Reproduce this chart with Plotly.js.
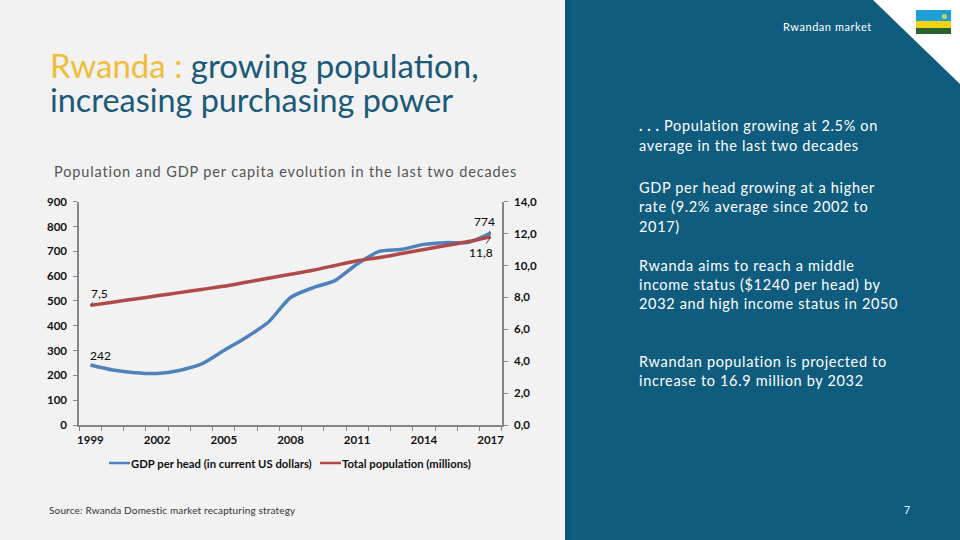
<!DOCTYPE html>
<html><head><meta charset="utf-8">
<script src="https://cdn.plot.ly/plotly-3.0.1.min.js"></script>
<style>html,body{margin:0;padding:0;background:#f2f2f2}</style>
</head><body><div id="chart" style="width:960px;height:540px"></div>
<script>
const years=[1999,2000,2001,2002,2003,2004,2005,2006,2007,2008,2009,2010,2011,2012,2013,2014,2015,2016,2017];
const gdpPerHead=[242,222,211,208,220,246,300,353,414,514,553,582,649,700,708,728,735,736,774];
const population=[7.5,7.7,7.9,8.1,8.3,8.5,8.7,8.95,9.2,9.45,9.7,10.0,10.3,10.5,10.75,11.0,11.25,11.5,11.8];
const xTickYears=[1999,2002,2005,2008,2011,2014,2017];
const leftTicks=[0,100,200,300,400,500,600,700,800,900];
const rightTicks=[0,2,4,6,8,10,12,14];
const rightTickLabels=['0,0','2,0','4,0','6,0','8,0','10,0','12,0','14,0'];
const seriesNames=['GDP per head (in current US dollars)','Total population (millions)'];
const W=960,H=540;
const px=x=>x/W, py=y=>1-y/H;
const axisGrey='#868686';
const blue='#4f81bd', red='#b0494a';
const chartFont={family:'Lato, "Liberation Sans", sans-serif',size:11,color:'#111'};
const tickFont={family:chartFont.family,size:11.5,color:'#111',weight:700};
const bodyFont='Lato, "Open Sans", sans-serif';
function note(x,y,text,size,color,anchor,spacing,weight){
  return {xref:'paper',yref:'paper',x:px(x),y:py(y),text:spacing?`<span style="letter-spacing:${spacing}px">${text}</span>`:text,showarrow:false,xanchor:anchor||'left',yanchor:'middle',align:anchor||'left',
    font:{family:bodyFont,size:size,color:color,weight:weight||400},borderpad:0,borderwidth:0};
}
function dataLabel(x,y,axis,text,ax,ay){
  return {xref:'x',yref:axis,x:x,y:y,text:text,showarrow:true,arrowhead:0,arrowwidth:0.8,arrowcolor:'#222',ax:ax,ay:ay,
    standoff:0,startstandoff:0,font:{family:chartFont.family,size:12,color:'#111',weight:500}};
}
function legendEntry(x0,x1,color,name){
  return [{type:'line',xref:'paper',yref:'paper',x0:px(x0),x1:px(x1),y0:py(463),y1:py(463),line:{color:color,width:2.5}},
          note(x1+1,463,name,11.3,'#111','left',0,700)];
}
const white='#ffffff', gold='#f0bd38', titleTeal='#1b5a78', greyText='#555555';
const leg1=legendEntry(109,130,blue,seriesNames[0]), leg2=legendEntry(320,341,red,seriesNames[1]);
const bs=0.66, bodySize=14.5;
const layout={
  width:W,height:H,margin:{l:0,r:0,t:0,b:0,pad:0},
  paper_bgcolor:'#f2f2f2',plot_bgcolor:'rgba(0,0,0,0)',
  font:chartFont,
  showlegend:false,
  xaxis:{domain:[px(79.3),px(501.7)],range:[1998.5,2017.5],tickmode:'array',tickvals:xTickYears,ticktext:xTickYears.map(String),
    ticks:'',ticklabelstandoff:3,showgrid:false,zeroline:false,showline:true,linecolor:axisGrey,linewidth:2,tickfont:tickFont,
    minor:{tick0:1998.5,dtick:1,ticks:'outside',ticklen:4,tickcolor:axisGrey,tickwidth:1,showgrid:false}},
  yaxis:{domain:[py(425),py(201.7)],range:[0,900],tickmode:'array',tickvals:leftTicks,ticks:'outside',ticklen:4,tickcolor:axisGrey,ticklabelstandoff:4,
    showgrid:false,zeroline:false,showline:true,linecolor:axisGrey,linewidth:2,tickfont:tickFont},
  yaxis2:{domain:[py(425),py(201.7)],overlaying:'y',side:'right',anchor:'x',range:[0,14],tickmode:'array',tickvals:rightTicks,ticktext:rightTickLabels,
    ticks:'outside',ticklen:4,tickcolor:axisGrey,ticklabelstandoff:4,showgrid:false,zeroline:false,showline:true,linecolor:axisGrey,linewidth:2,tickfont:tickFont},
  shapes:[
    {type:'rect',xref:'paper',yref:'paper',x0:px(565),x1:1,y0:0,y1:1,fillcolor:'#0f5c7e',line:{width:0},layer:'below'},
    {type:'rect',xref:'paper',yref:'paper',x0:px(565),x1:px(570),y0:0,y1:1,fillcolor:'#0d5575',line:{width:0},layer:'below'},
    {type:'path',xref:'paper',yref:'paper',path:`M ${px(873)} 1 L 1 1 L 1 ${py(84)} Z`,fillcolor:white,line:{width:0},layer:'below'},
    {type:'rect',xref:'paper',yref:'paper',x0:px(916),x1:px(951),y0:py(21),y1:py(10),fillcolor:'#1f9fd8',line:{width:0},layer:'below'},
    {type:'rect',xref:'paper',yref:'paper',x0:px(916),x1:px(951),y0:py(28),y1:py(21),fillcolor:'#f5d116',line:{width:0},layer:'below'},
    {type:'rect',xref:'paper',yref:'paper',x0:px(916),x1:px(951),y0:py(34),y1:py(28),fillcolor:'#2a6130',line:{width:0},layer:'below'},
    {type:'circle',xref:'paper',yref:'paper',x0:px(942),x1:px(947),y0:py(19),y1:py(14),fillcolor:'#cfd24a',line:{width:0},layer:'below'},
    leg1[0],leg2[0]
  ],
  annotations:[
    note(50,65,`<span style="color:${gold}">Rwanda :</span> growing population,`,33,titleTeal),
    note(50,100,'increasing purchasing power',32.4,titleTeal),
    note(54,171,'Population and GDP per capita evolution in the last two decades',14.5,greyText,'left',0.87),
    note(49,510,'Source: Rwanda Domestic market recapturing strategy',10,'#333','left',0.16),
    note(783,26.5,'Rwandan market',11,white,'left',0.55),
    note(639,125,'<b>. . .</b> Population growing at 2.5% on',bodySize,white,'left',bs),
    note(639,145,'average in the last two decades',bodySize,white,'left',bs),
    note(639,188,'GDP per head growing at a higher',bodySize,white,'left',bs),
    note(639,207,'rate (9.2% average since 2002 to',bodySize,white,'left',bs),
    note(639,226,'2017)',bodySize,white,'left',bs),
    note(639,265,'Rwanda aims to reach a middle',bodySize,white,'left',bs),
    note(639,284,'income status ($1240 per head) by',bodySize,white,'left',bs),
    note(639,303,'2032 and high income status in 2050',bodySize,white,'left',bs),
    note(639,361,'Rwandan population is projected to',bodySize,white,'left',bs),
    note(639,380,'increase to 16.9 million by 2032',bodySize,white,'left',bs),
    note(907,510,'7',10.5,white,'center'),
    leg1[1],leg2[1],
    dataLabel(years[0],gdpPerHead[0],'y','242',10,-9),
    dataLabel(years[0],population[0],'y2','7,5',9,-12),
    dataLabel(years[18],gdpPerHead[18],'y','774',-6,-11),
    dataLabel(years[18],population[18],'y2','11,8',-10,16)
  ]
};
const traces=[
  {type:'scatter',mode:'lines',x:years,y:gdpPerHead,name:seriesNames[0],yaxis:'y',line:{color:blue,width:3.5,shape:'spline',smoothing:0.6}},
  {type:'scatter',mode:'lines',x:years,y:population,name:seriesNames[1],yaxis:'y2',line:{color:red,width:3.5,shape:'spline',smoothing:0.6}}
];
Plotly.newPlot('chart',traces,layout,{staticPlot:true,displayModeBar:false});
</script></body></html>
